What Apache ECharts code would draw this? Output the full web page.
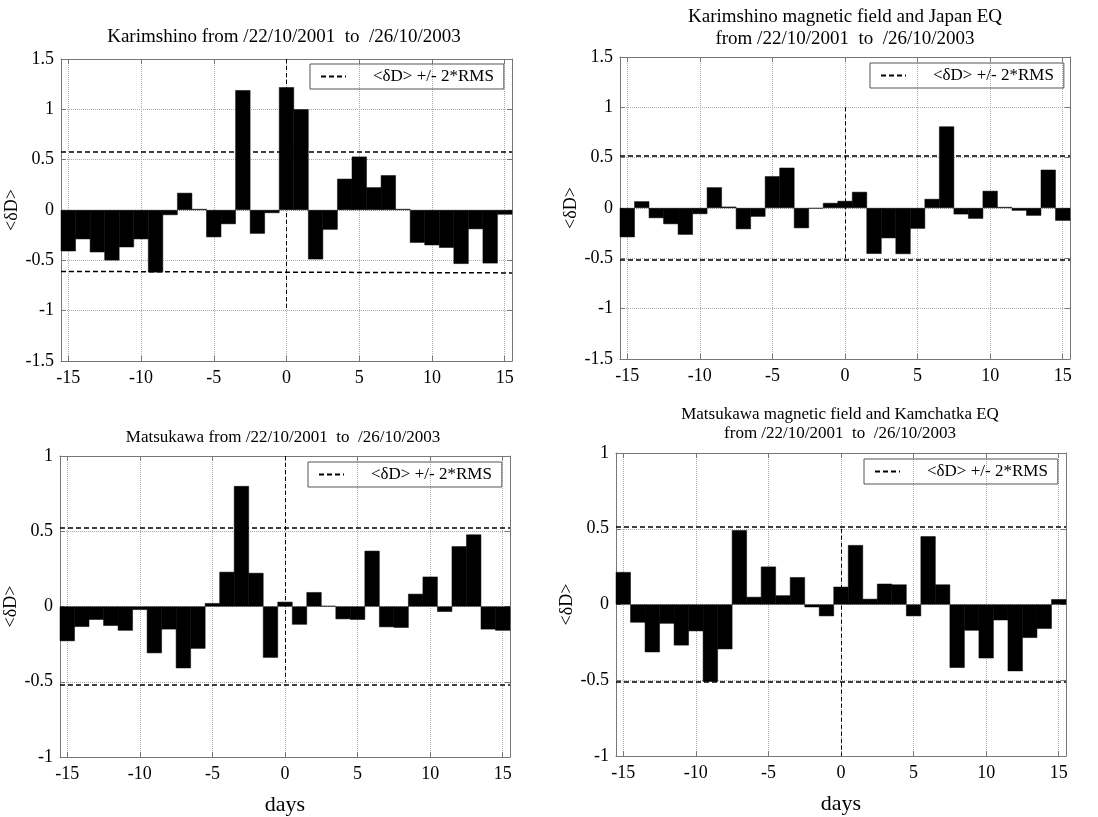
<!DOCTYPE html>
<html><head><meta charset="utf-8">
<script src="https://cdn.jsdelivr.net/npm/echarts@6/dist/echarts.min.js"></script>
<style>html,body{margin:0;padding:0;background:#fff}#c{width:1098px;height:817px}</style>
</head><body><div id="c"></div>
<script>
const days = [-15,-14,-13,-12,-11,-10,-9,-8,-7,-6,-5,-4,-3,-2,-1,0,1,2,3,4,5,6,7,8,9,10,11,12,13,14,15];
const xTicks = [-15,-10,-5,0,5,10,15];
const karimshino = [-0.41,-0.29,-0.42,-0.50,-0.37,-0.29,-0.62,-0.05,0.17,0.01,-0.27,-0.14,1.19,-0.235,-0.03,1.22,1.00,-0.49,-0.195,0.31,0.53,0.225,0.345,0.01,-0.325,-0.35,-0.375,-0.535,-0.19,-0.53,-0.045];
const karimshinoJapan = [-0.29,0.066,-0.10,-0.16,-0.265,-0.06,0.205,0.013,-0.21,-0.086,0.315,0.40,-0.20,-0.005,0.05,0.07,0.16,-0.455,-0.30,-0.457,-0.205,0.09,0.81,-0.063,-0.106,0.17,0.01,-0.026,-0.076,0.38,-0.126];
const matsukawa = [-0.23,-0.135,-0.088,-0.128,-0.16,-0.022,-0.31,-0.152,-0.41,-0.28,0.022,0.23,0.80,0.223,-0.34,0.031,-0.12,0.095,0.004,-0.084,-0.088,0.37,-0.137,-0.141,0.084,0.198,-0.035,0.40,0.478,-0.152,-0.16];
const matsukawaKamchatka = [0.214,-0.119,-0.315,-0.126,-0.27,-0.176,-0.51,-0.295,0.49,0.05,0.25,0.06,0.18,-0.018,-0.077,0.117,0.392,0.037,0.137,0.132,-0.077,0.45,0.132,-0.418,-0.172,-0.355,-0.104,-0.44,-0.22,-0.16,0.035];
// <δD> +/- 2*RMS levels: [start, end] at the left and right edges
const rmsUpper = [[0.575,0.575],[0.52,0.52],[0.525,0.525],[0.513,0.513]];
const rmsLower = [[-0.61,-0.625],[-0.51,-0.51],[-0.52,-0.52],[-0.511,-0.511]];
// vertical dashed line at day 0: [top, bottom]
const zeroSpan = [[1.5,-1],[1,-0.5],[1,-0.5],[0.5,-1]];
const yRanges = [[-1.5,1.5],[-1.5,1.5],[-1,1],[-1,1]];
const titles = [
  'Karimshino from /22/10/2001  to  /26/10/2003',
  'Karimshino magnetic field and Japan EQ\nfrom /22/10/2001  to  /26/10/2003',
  'Matsukawa from /22/10/2001  to  /26/10/2003',
  'Matsukawa magnetic field and Kamchatka EQ\nfrom /22/10/2001  to  /26/10/2003'
];
const legendName = '<δD> +/- 2*RMS';
const allValues = [karimshino, karimshinoJapan, matsukawa, matsukawaKamchatka];

const FONT = 'Liberation Serif';
const AX = '#777';
const grids = [
  {left:61, top:59, width:451, height:302},
  {left:620, top:57, width:450, height:302},
  {left:60, top:456, width:450, height:302},
  {left:616, top:453, width:450, height:303}
];
const titlePos = [
  {left:284, top:27, size:19, lh:21},
  {left:845, top:6, size:19, lh:22},
  {left:283, top:428, size:17, lh:19},
  {left:840, top:405, size:17, lh:19}
];
const legendPos = [
  {left:310, top:64}, {left:870, top:63}, {left:308, top:462}, {left:864, top:459}
];
const yNameGap = [35, 29, 35, 29];

const xAxis = [], yAxis = [], series = [], title = [], legend = [];
grids.forEach((g, i) => {
  xAxis.push({
    type:'value', gridIndex:i, min:-15.5, max:15.5,
    axisLine:{show:true, onZero:false, lineStyle:{color:AX}},
    axisTick:{show:true, customValues:xTicks, inside:true, length:5, lineStyle:{color:AX}},
    axisLabel:{customValues:xTicks, color:'#000', fontFamily:FONT, fontSize:18, margin:8},
    splitLine:{show:true, lineStyle:{type:'dotted', color:'#aaa'}},
    name: i >= 2 ? 'days' : '', nameLocation:'middle', nameGap:37,
    nameTextStyle:{color:'#000', fontFamily:FONT, fontSize:22}
  });
  xAxis.push({
    type:'value', gridIndex:i, position:'top', min:-15.5, max:15.5,
    axisLine:{show:true, onZero:false, lineStyle:{color:AX}},
    axisTick:{show:true, customValues:xTicks, inside:true, length:5, lineStyle:{color:AX}},
    axisLabel:{show:false}, splitLine:{show:false}
  });
  yAxis.push({
    type:'value', gridIndex:i, min:yRanges[i][0], max:yRanges[i][1], interval:0.5,
    axisLine:{show:true, onZero:false, lineStyle:{color:AX}},
    axisTick:{show:true, inside:true, length:5, lineStyle:{color:AX}},
    axisLabel:{color:'#000', fontFamily:FONT, fontSize:18, margin:7},
    splitLine:{show:true, lineStyle:{type:'dotted', color:'#aaa'}},
    name:'<δD>', nameLocation:'middle', nameGap:yNameGap[i], nameRotate:90,
    nameTextStyle:{color:'#000', fontFamily:FONT, fontSize:18}
  });
  yAxis.push({
    type:'value', gridIndex:i, position:'right', min:yRanges[i][0], max:yRanges[i][1], interval:0.5,
    axisLine:{show:true, onZero:false, lineStyle:{color:AX}},
    axisTick:{show:true, inside:true, length:5, lineStyle:{color:AX}},
    axisLabel:{show:false}, splitLine:{show:false}
  });
  series.push({
    type:'bar', xAxisIndex:2*i, yAxisIndex:2*i, silent:true,
    data: days.map((d, k) => [d, allValues[i][k]]),
    barWidth:15, itemStyle:{color:'#000', borderColor:'#000', borderWidth:0.5},
    markLine:{symbol:'none', silent:true, label:{show:false},
      lineStyle:{type:[4,3], color:'#000', width:1},
      data:[[{coord:[0, zeroSpan[i][0]]},{coord:[0, zeroSpan[i][1]]}]]}
  });
  series.push({
    type:'line', name:legendName, xAxisIndex:2*i, yAxisIndex:2*i, data:[], symbol:'none',
    lineStyle:{type:[5,3], color:'#000', width:1.5}, itemStyle:{color:'#000'},
    markLine:{symbol:'none', silent:true, label:{show:false},
      lineStyle:{type:[5,3], color:'#000', width:1.5},
      data:[
        [{coord:[-15.5, rmsUpper[i][0]]},{coord:[15.5, rmsUpper[i][1]]}],
        [{coord:[-15.5, rmsLower[i][0]]},{coord:[15.5, rmsLower[i][1]]}]
      ]}
  });
  title.push({
    text:titles[i], left:titlePos[i].left, top:titlePos[i].top, textAlign:'center', padding:0,
    textStyle:{color:'#000', fontFamily:FONT, fontWeight:'normal', fontSize:titlePos[i].size, lineHeight:titlePos[i].lh}
  });
  legend.push({
    data:[legendName], left:legendPos[i].left, top:legendPos[i].top, selectedMode:false,
    borderColor:'#555', borderWidth:1, borderRadius:0, padding:[4,10,4,10],
    itemWidth:25, itemHeight:10,
    itemStyle:{opacity:0, borderWidth:0},
    textStyle:{color:'#000', fontFamily:FONT, fontSize:17, padding:[0,0,0,22]}
  });
});

const chart = echarts.init(document.getElementById('c'), null, {renderer:'canvas'});
chart.setOption({animation:false, backgroundColor:'#fff', grid:grids, xAxis, yAxis, series, title, legend});
</script></body></html>
